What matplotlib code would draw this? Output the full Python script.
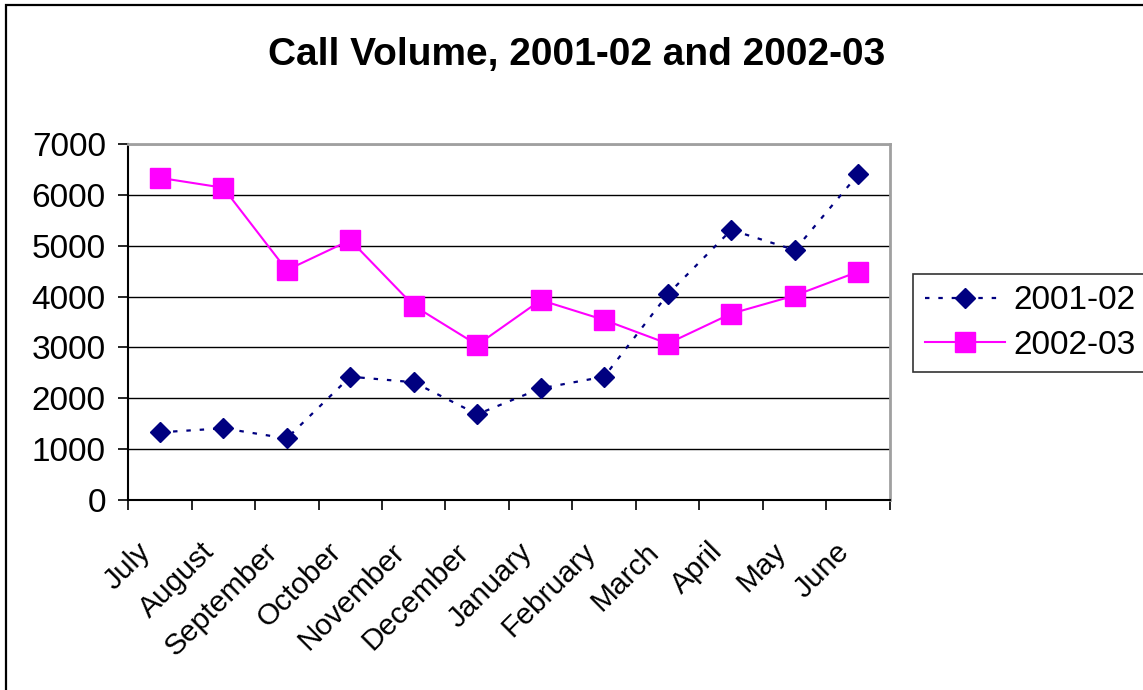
import matplotlib
matplotlib.use("Agg")
import matplotlib.pyplot as plt
from matplotlib.patches import Rectangle
from matplotlib.transforms import ScaledTranslation

months = ["July", "August", "September", "October", "November", "December",
          "January", "February", "March", "April", "May", "June"]
series_2001_02 = [1330, 1410, 1210, 2425, 2315, 1685, 2195, 2425, 4045, 5310, 4915, 6405]
series_2002_03 = [6335, 6140, 4520, 5110, 3820, 3050, 3930, 3540, 3075, 3665, 4020, 4490]
y_ticks = [0, 1000, 2000, 3000, 4000, 5000, 6000, 7000]

plt.rcParams['font.family'] = ['Liberation Sans', 'DejaVu Sans']

W, H = 1143, 690
fig = plt.figure(figsize=(W / 100, H / 100), dpi=100)
fig.patch.set_facecolor('white')

# outer chart border
fig.patches.append(Rectangle((5.5 / W, -0.1), 1.2, 1 - 5.5 / H + 0.1, transform=fig.transFigure,
                             fill=False, edgecolor='black', linewidth=1.6, zorder=0))

L, R, T, B = 128, 890, 144, 500
ax = fig.add_axes([L / W, 1 - B / H, (R - L) / W, (B - T) / H])
x = list(range(len(months)))

ax.plot(x, series_2001_02, color='#000080', linestyle=(0, (2, 4)), linewidth=1.6,
        marker='D', markersize=10, label='2001-02', zorder=3)
ax.plot(x, series_2002_03, color='#FF00FF', linestyle='-', linewidth=1.5,
        marker='s', markersize=14, label='2002-03', zorder=4)

ax.set_xlim(-0.5, len(months) - 0.5)
ax.set_ylim(0, 7000)
ax.set_yticks(y_ticks)
ax.set_yticklabels([str(v) for v in y_ticks], fontsize=24)
ax.yaxis.grid(True, color='black', linewidth=1.0)
ax.set_axisbelow(True)

ax.set_xticks([i - 0.5 for i in range(len(months) + 1)])
ax.set_xticklabels([])
ax.set_xticks(x, minor=True)
ax.set_xticklabels(months, minor=True, fontsize=21.5, rotation=45, ha='right', va='top',
                   rotation_mode='anchor')
ax.tick_params(axis='x', which='minor', length=0, pad=27)
ax.tick_params(axis='x', which='major', direction='out', length=7, width=1.2)
ax.tick_params(axis='y', direction='out', length=7, width=1.2, pad=9)
shift = ScaledTranslation(-23 / 100, 0, fig.dpi_scale_trans)
for lbl in ax.get_xticklabels(minor=True):
    lbl.set_transform(lbl.get_transform() + shift)

for s in ['top', 'right']:
    ax.spines[s].set_color('#A0A0A0')
    ax.spines[s].set_linewidth(2)
for s in ['left', 'bottom']:
    ax.spines[s].set_color('black')
    ax.spines[s].set_linewidth(1.5)

fig.text(577 / W, 1 - 55 / H, "Call Volume, 2001-02 and 2002-03", fontsize=28,
         fontweight='bold', ha='center', va='center')

leg = ax.legend(loc='center left', bbox_to_anchor=(913 / W, 1 - 323 / H),
                bbox_transform=fig.transFigure, fontsize=24, frameon=True,
                fancybox=False, edgecolor='black', handlelength=2.4, borderpad=0.35,
                labelspacing=0.4, handletextpad=0.25, borderaxespad=0)
leg.get_frame().set_linewidth(1.2)

fig.savefig('out.png', dpi=100)
